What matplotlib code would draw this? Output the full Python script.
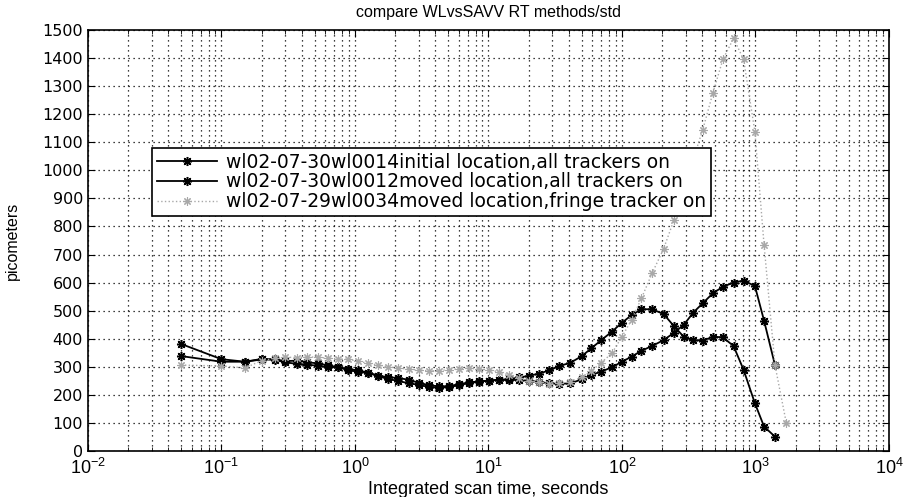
import numpy as np
import matplotlib
matplotlib.use("Agg")
import matplotlib.pyplot as plt
from matplotlib.ticker import LogLocator, NullFormatter, MultipleLocator

plt.rcParams['font.family'] = ['Liberation Sans', 'DejaVu Sans']

# scan times (seconds)
t = [0.05, 0.1, 0.15, 0.2, 0.25, 0.3, 0.37, 0.44, 0.53, 0.63, 0.75, 0.89,
     1.06, 1.26, 1.5, 1.78, 2.1, 2.52, 3.0, 3.56, 4.24, 5.05, 6.0, 7.1, 8.5,
     10.1, 12, 14.3, 17, 20.2, 24, 28.6, 34, 41, 50, 59, 70, 84, 100, 118,
     140, 168, 205, 245, 290, 342, 402, 480, 570, 685, 815, 990, 1160, 1400]
t_fringe = t + [1700]

std_0014 = [381, 327, 318, 328, 327, 320, 322, 316, 312, 305, 298, 292,
            287, 279, 268, 263, 260, 254, 243, 235, 230, 231, 238, 244, 248,
            251, 254, 256, 262, 268, 276, 287, 303, 314, 338, 366, 395, 425,
            457, 484, 505, 505, 488, 445, 407, 395, 393, 407, 405, 374, 289,
            170, 87, 51]
std_0012 = [338, 318, 318, 326, 325, 316, 310, 308, 303, 299, 298, 288,
            282, 278, 266, 256, 250, 241, 236, 228, 225, 228, 234, 242, 247,
            251, 253, 253, 253, 250, 246, 241, 239, 241, 255, 271, 283, 298,
            318, 336, 357, 374, 395, 421, 449, 493, 526, 562, 585, 600, 607,
            588, 464, 306]
std_0034 = [306, 303, 296, 322, 330, 334, 333, 335, 334, 330, 329, 326,
            320, 312, 306, 300, 295, 292, 288, 286, 286, 290, 293, 295, 292,
            289, 282, 270, 259, 250, 244, 240, 241, 247, 262, 285, 315, 348,
            407, 467, 544, 633, 720, 823, 930, 1040, 1143, 1276, 1395, 1470,
            1395, 1137, 734, 306, 101]

labels = ["wl02-07-30wl0014initial location,all trackers on",
          "wl02-07-30wl0012moved location,all trackers on",
          "wl02-07-29wl0034moved location,fringe tracker on"]

fig = plt.figure(figsize=(9.06, 4.97), dpi=100)
ax = fig.add_axes([0.0971, 0.0926, 0.8841, 0.8471])

star = (8, 2, 0)
ax.semilogx(t, std_0014, '-', color='black', lw=1.3, marker=star, ms=6.5, mew=1.1, label=labels[0])
ax.semilogx(t, std_0012, '-', color='black', lw=1.3, marker=star, ms=6.5, mew=1.1, label=labels[1])
ax.semilogx(t_fringe, std_0034, ':', color='#a8a8a8', lw=1.0, marker=star, ms=6, mew=0.8, label=labels[2])

ax.set_xlim(1e-2, 1e4)
ax.set_ylim(0, 1500)
ax.yaxis.set_major_locator(MultipleLocator(100))
ax.xaxis.set_major_locator(LogLocator(base=10, numticks=10))
ax.xaxis.set_minor_locator(LogLocator(base=10, subs=np.arange(2, 10), numticks=10))
ax.xaxis.set_minor_formatter(NullFormatter())

ax.grid(True, which='major', linestyle=(0, (1, 3)), color='black', lw=0.9)
ax.grid(True, which='minor', axis='x', linestyle=(0, (1, 3)), color='black', lw=0.9)
ax.tick_params(which='both', direction='in', top=True, right=True)
ax.tick_params(axis='y', labelsize=12.5)
ax.tick_params(axis='x', labelsize=13, pad=5)
for lab in ax.get_yticklabels():
    lab.set_family('DejaVu Sans')
    lab.set_fontsize(11.5)
ax.tick_params(which='major', length=5)
ax.tick_params(which='minor', length=3)
for s in ax.spines.values():
    s.set_linewidth(1.2)

ax.set_title("compare WLvsSAVV RT methods/std", fontsize=11.5, pad=9)
ax.set_xlabel("Integrated scan time, seconds", fontsize=13, labelpad=2)
ax.set_ylabel("picometers", fontsize=11.5, labelpad=16)

leg = ax.legend(loc='upper left', bbox_to_anchor=(0.08, 0.72), borderaxespad=0,
                prop={'family': 'DejaVu Sans', 'size': 13.5}, handlelength=3.2,
                fancybox=False, framealpha=1, edgecolor='black', borderpad=0.25,
                labelspacing=0.05, handletextpad=0.5)
leg.get_frame().set_linewidth(1.2)

fig.savefig("out.png", dpi=100)
